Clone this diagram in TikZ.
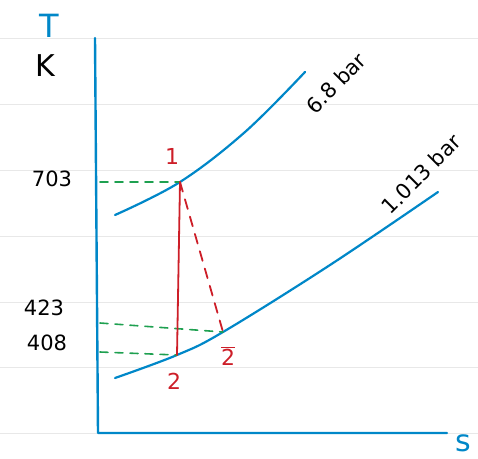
\documentclass[tikz,border=0pt]{standalone}
\usepackage{fontspec}
\setmainfont{DejaVu Sans}
\usepackage{tikz}
\usetikzlibrary{positioning,calc}

\definecolor{axisblue}{RGB}{0,135,200}
\definecolor{procred}{RGB}{205,30,40}
\definecolor{guidegreen}{RGB}{30,160,80}

\begin{document}
\begin{tikzpicture}[
    x=1pt, y=-1pt,
    ruled/.style      = {draw=black!9, line width=0.8pt},
    axisline/.style   = {draw=axisblue, line width=2.4pt},
    isobar/.style     = {draw=axisblue, line width=2.2pt, line cap=round},
    process/.style    = {draw=procred, line width=1.8pt},
    irrev/.style      = {process, dash pattern=on 10pt off 8pt},
    guide/.style      = {draw=guidegreen, line width=1.6pt, dash pattern=on 8pt off 7pt},
    tick/.style       = {font=\fontsize{21}{21}\selectfont, text=black},
    statelabel/.style = {font=\fontsize{22}{22}\selectfont, text=procred, inner sep=1pt},
    pressure/.style   = {font=\fontsize{21}{21}\selectfont, text=black, rotate=45, inner sep=1pt},
    line cap=round, line join=round
]

\useasboundingbox (0,0) rectangle (478,458);

% notebook ruling
\foreach \y in {38,104,170,236,302,367,433}
    \draw[ruled] (0,\y) -- (478,\y);

% axes
\coordinate (origin) at (98,433);
\coordinate (ytop)   at (95,38);
\coordinate (xend)   at (447,433);
\draw[axisline] (ytop) -- (origin) -- (xend);

\node[text=axisblue, font=\fontsize{32}{32}\selectfont] (Tlabel) at (49,26) {T};
\node[font=\fontsize{30}{30}\selectfont] (Klabel) at (45,66) {K};
\node[text=axisblue, font=\fontsize{30}{30}\selectfont] (slabel) at (463,443) {s};

% states
\coordinate (st1)  at (180,182);
\coordinate (st2)  at (177,355);
\coordinate (st2b) at (223,332);

% isobars
\draw[isobar] plot[smooth, tension=0.6] coordinates {(115,215) (st1) (245,132) (305,72)};
\draw[isobar] plot[smooth, tension=0.6] coordinates {(115,378) (st2) (st2b) (330,265) (438,192)};

\node[pressure] (phigh) at (336,83)  {6.8 bar};
\node[pressure] (plow)  at (421,174) {1.013 bar};

% temperature guides
\coordinate (ax703) at (100,182);
\coordinate (ax423) at (100,323);
\coordinate (ax408) at (100,352);
\draw[guide] (ax703) -- (st1);
\draw[guide] (ax423) -- (st2b);
\draw[guide] (ax408) -- (st2);

\node[tick] (t703) at (52,179) {703};
\node[tick] (t423) at (44,308) {423};
\node[tick] (t408) at (47,343) {408};

% expansion 1-2 and 1-2bar
\draw[process] (st1) -- (st2);
\draw[irrev]   (st1) -- (st2b);

\node[statelabel] (l1)  at (172,156) {1};
\node[statelabel] (l2)  at (174,381) {2};
\node[statelabel] (l2b) at (228,356) {$\overline{\mathrm{2}}$};

\end{tikzpicture}
\end{document}
